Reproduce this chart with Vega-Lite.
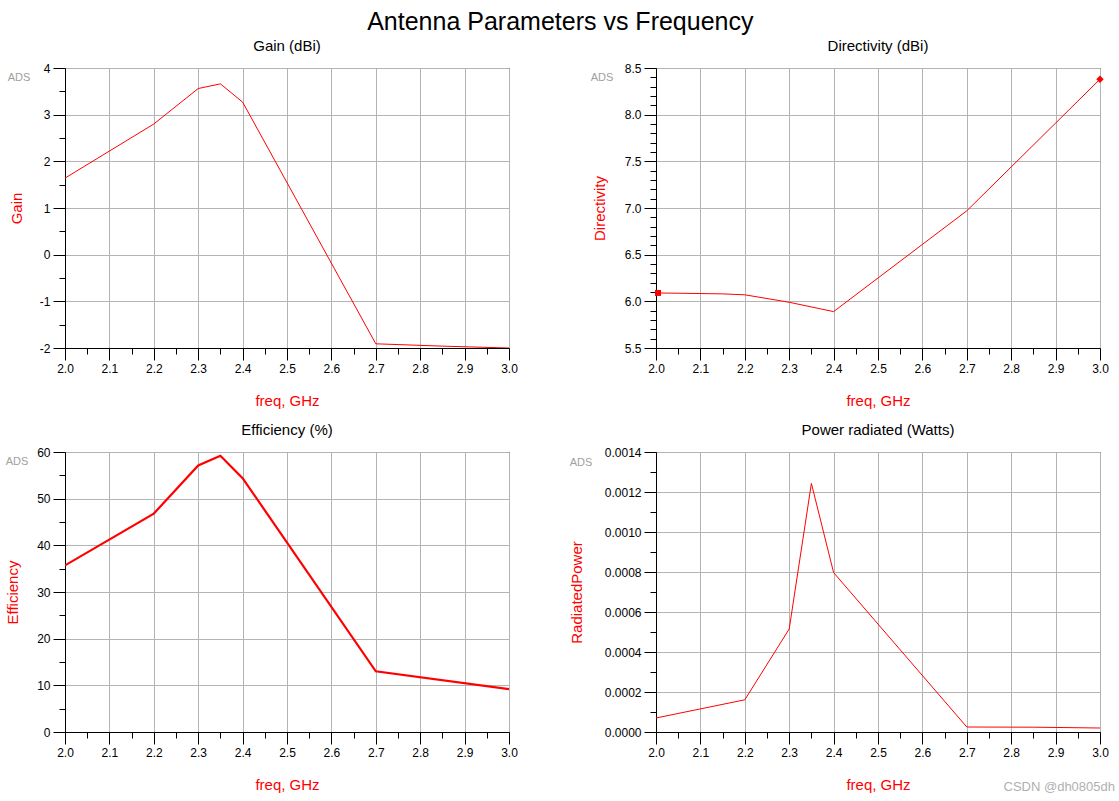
{
  "$schema": "https://vega.github.io/schema/vega-lite/v6.json",
  "padding": {"left": 5, "top": 9, "right": 5, "bottom": 5},
  "background": "white",
  "title": {"text": "Antenna Parameters vs Frequency", "fontSize": 25, "font": "Liberation Sans", "fontWeight": "normal", "anchor": "middle", "color": "black", "offset": 4},
  "datasets": {
    "gain": [
      {"freq": 2.0, "gain": 1.64}, {"freq": 2.2, "gain": 2.80}, {"freq": 2.3, "gain": 3.56}, {"freq": 2.35, "gain": 3.66},
      {"freq": 2.4, "gain": 3.27}, {"freq": 2.7, "gain": -1.91}, {"freq": 2.85, "gain": -1.96}, {"freq": 3.0, "gain": -2.0}
    ],
    "directivity": [
      {"freq": 2.0, "directivity": 6.09}, {"freq": 2.15, "directivity": 6.08}, {"freq": 2.2, "directivity": 6.07}, {"freq": 2.3, "directivity": 5.99},
      {"freq": 2.4, "directivity": 5.89}, {"freq": 2.7, "directivity": 6.97}, {"freq": 3.0, "directivity": 8.38}
    ],
    "efficiency": [
      {"freq": 2.0, "efficiency": 35.7}, {"freq": 2.2, "efficiency": 46.8}, {"freq": 2.3, "efficiency": 57.1}, {"freq": 2.35, "efficiency": 59.2},
      {"freq": 2.4, "efficiency": 54.4}, {"freq": 2.7, "efficiency": 13.0}, {"freq": 3.0, "efficiency": 9.2}
    ],
    "power": [
      {"freq": 2.0, "power": 0.00007}, {"freq": 2.2, "power": 0.000161}, {"freq": 2.3, "power": 0.000515}, {"freq": 2.35, "power": 0.001243},
      {"freq": 2.4, "power": 0.000797}, {"freq": 2.7, "power": 0.000025}, {"freq": 2.85, "power": 0.000024}, {"freq": 3.0, "power": 0.00002}
    ]
  },
  "columns": 2,
  "spacing": {"row": 104, "column": 147},
  "bounds": "flush",
  "concat": [
    {
      "width": 444, "height": 280,
      "title": {"text": "Gain (dBi)"},
      "layer": [
        {
          "data": {"name": "gain"},
          "mark": {"type": "line", "color": "red", "strokeWidth": 1, "clip": true},
          "encoding": {
            "x": {"field": "freq", "type": "quantitative", "scale": {"domain": [2, 3], "nice": false, "zero": false},
              "axis": {"title": "freq, GHz", "tickCount": 200, "values": [2, 2.05, 2.1, 2.15, 2.2, 2.25, 2.3, 2.35, 2.4, 2.45, 2.5, 2.55, 2.6, 2.65, 2.7, 2.75, 2.8, 2.85, 2.9, 2.95, 3],
                "labelExpr": "abs(datum.value*10-round(datum.value*10))<0.01 ? format(datum.value,'.1f') : ''",
                "tickSize": {"condition": {"test": "abs(datum.value*10-round(datum.value*10))<0.01", "value": 12}, "value": 6},
                "gridOpacity": {"condition": {"test": "abs(datum.value*10-round(datum.value*10))<0.01", "value": 1}, "value": 0}}},
            "y": {"field": "gain", "type": "quantitative", "scale": {"domain": [-2, 4], "nice": false, "zero": false},
              "axis": {"title": "Gain", "tickCount": 200, "values": [-2, -1.5, -1, -0.5, 0, 0.5, 1, 1.5, 2, 2.5, 3, 3.5, 4],
                "labelExpr": "abs(datum.value-round(datum.value))<0.01 ? ('' + round(datum.value)) : ''",
                "tickSize": {"condition": {"test": "abs(datum.value-round(datum.value))<0.01", "value": 12}, "value": 6},
                "gridOpacity": {"condition": {"test": "abs(datum.value-round(datum.value))<0.01", "value": 1}, "value": 0}}}
          }
        },
        {
          "data": {"values": [{}]},
          "mark": {"type": "text", "text": "ADS", "color": "#a0a0a0", "fontSize": 11, "font": "Liberation Sans", "align": "center", "baseline": "middle", "dx": -46, "dy": 10},
          "encoding": {"x": {"datum": 2}, "y": {"datum": 4}}
        }
      ]
    },
    {
      "width": 444, "height": 280,
      "title": {"text": "Directivity (dBi)"},
      "layer": [
        {
          "data": {"name": "directivity"},
          "mark": {"type": "line", "color": "red", "strokeWidth": 1, "clip": true},
          "encoding": {
            "x": {"field": "freq", "type": "quantitative", "scale": {"domain": [2, 3], "nice": false, "zero": false},
              "axis": {"title": "freq, GHz", "tickCount": 200, "values": [2, 2.05, 2.1, 2.15, 2.2, 2.25, 2.3, 2.35, 2.4, 2.45, 2.5, 2.55, 2.6, 2.65, 2.7, 2.75, 2.8, 2.85, 2.9, 2.95, 3],
                "labelExpr": "abs(datum.value*10-round(datum.value*10))<0.01 ? format(datum.value,'.1f') : ''",
                "tickSize": {"condition": {"test": "abs(datum.value*10-round(datum.value*10))<0.01", "value": 12}, "value": 6},
                "gridOpacity": {"condition": {"test": "abs(datum.value*10-round(datum.value*10))<0.01", "value": 1}, "value": 0}}},
            "y": {"field": "directivity", "type": "quantitative", "scale": {"domain": [5.5, 8.5], "nice": false, "zero": false},
              "axis": {"title": "Directivity", "titlePadding": 17, "tickCount": 200, "values": [5.5, 5.6, 5.7, 5.8, 5.9, 6.0, 6.1, 6.2, 6.3, 6.4, 6.5, 6.6, 6.7, 6.8, 6.9, 7.0, 7.1, 7.2, 7.3, 7.4, 7.5, 7.6, 7.7, 7.8, 7.9, 8.0, 8.1, 8.2, 8.3, 8.4, 8.5],
                "labelExpr": "abs(datum.value*2-round(datum.value*2))<0.01 ? format(datum.value,'.1f') : ''",
                "tickSize": {"condition": {"test": "abs(datum.value*2-round(datum.value*2))<0.01", "value": 12}, "value": 6},
                "gridOpacity": {"condition": {"test": "abs(datum.value*2-round(datum.value*2))<0.01", "value": 1}, "value": 0}}}
          }
        },
        {
          "data": {"name": "directivity"},
          "transform": [{"filter": "datum.freq == 2"}],
          "mark": {"type": "point", "shape": "square", "filled": true, "color": "red", "size": 36, "opacity": 1, "xOffset": 2},
          "encoding": {"x": {"field": "freq", "type": "quantitative"}, "y": {"field": "directivity", "type": "quantitative"}}
        },
        {
          "data": {"name": "directivity"},
          "transform": [{"filter": "datum.freq == 3"}],
          "mark": {"type": "point", "shape": "diamond", "filled": true, "color": "red", "size": 55, "opacity": 1},
          "encoding": {"x": {"field": "freq", "type": "quantitative"}, "y": {"field": "directivity", "type": "quantitative"}}
        },
        {
          "data": {"values": [{}]},
          "mark": {"type": "text", "text": "ADS", "color": "#a0a0a0", "fontSize": 11, "font": "Liberation Sans", "align": "center", "baseline": "middle", "dx": -54, "dy": 10},
          "encoding": {"x": {"datum": 2}, "y": {"datum": 8.5}}
        }
      ]
    },
    {
      "width": 444, "height": 280,
      "title": {"text": "Efficiency (%)"},
      "layer": [
        {
          "data": {"name": "efficiency"},
          "mark": {"type": "line", "color": "red", "strokeWidth": 2.2, "clip": true},
          "encoding": {
            "x": {"field": "freq", "type": "quantitative", "scale": {"domain": [2, 3], "nice": false, "zero": false},
              "axis": {"title": "freq, GHz", "tickCount": 200, "values": [2, 2.05, 2.1, 2.15, 2.2, 2.25, 2.3, 2.35, 2.4, 2.45, 2.5, 2.55, 2.6, 2.65, 2.7, 2.75, 2.8, 2.85, 2.9, 2.95, 3],
                "labelExpr": "abs(datum.value*10-round(datum.value*10))<0.01 ? format(datum.value,'.1f') : ''",
                "tickSize": {"condition": {"test": "abs(datum.value*10-round(datum.value*10))<0.01", "value": 12}, "value": 6},
                "gridOpacity": {"condition": {"test": "abs(datum.value*10-round(datum.value*10))<0.01", "value": 1}, "value": 0}}},
            "y": {"field": "efficiency", "type": "quantitative", "scale": {"domain": [0, 60], "nice": false, "zero": false},
              "axis": {"title": "Efficiency", "titlePadding": 16, "tickCount": 200, "values": [0, 5, 10, 15, 20, 25, 30, 35, 40, 45, 50, 55, 60],
                "labelExpr": "datum.value % 10 == 0 ? format(datum.value,'d') : ''",
                "tickSize": {"condition": {"test": "datum.value % 10 == 0", "value": 12}, "value": 6},
                "gridOpacity": {"condition": {"test": "datum.value % 10 == 0", "value": 1}, "value": 0}}}
          }
        },
        {
          "data": {"values": [{}]},
          "mark": {"type": "text", "text": "ADS", "color": "#a0a0a0", "fontSize": 11, "font": "Liberation Sans", "align": "center", "baseline": "middle", "dx": -48, "dy": 10},
          "encoding": {"x": {"datum": 2}, "y": {"datum": 60}}
        }
      ]
    },
    {
      "width": 444, "height": 280,
      "title": {"text": "Power radiated (Watts)"},
      "layer": [
        {
          "data": {"name": "power"},
          "mark": {"type": "line", "color": "red", "strokeWidth": 1, "clip": true},
          "encoding": {
            "x": {"field": "freq", "type": "quantitative", "scale": {"domain": [2, 3], "nice": false, "zero": false},
              "axis": {"title": "freq, GHz", "tickCount": 200, "values": [2, 2.05, 2.1, 2.15, 2.2, 2.25, 2.3, 2.35, 2.4, 2.45, 2.5, 2.55, 2.6, 2.65, 2.7, 2.75, 2.8, 2.85, 2.9, 2.95, 3],
                "labelExpr": "abs(datum.value*10-round(datum.value*10))<0.01 ? format(datum.value,'.1f') : ''",
                "tickSize": {"condition": {"test": "abs(datum.value*10-round(datum.value*10))<0.01", "value": 12}, "value": 6},
                "gridOpacity": {"condition": {"test": "abs(datum.value*10-round(datum.value*10))<0.01", "value": 1}, "value": 0}}},
            "y": {"field": "power", "type": "quantitative", "scale": {"domain": [0, 0.0014], "nice": false, "zero": false},
              "axis": {"title": "RadiatedPower", "titlePadding": 20, "tickCount": 200, "values": [0, 0.0001, 0.0002, 0.0003, 0.0004, 0.0005, 0.0006, 0.0007, 0.0008, 0.0009, 0.001, 0.0011, 0.0012, 0.0013, 0.0014],
                "labelExpr": "abs(datum.value*5000-round(datum.value*5000))<0.01 ? format(datum.value,'.4f') : ''",
                "tickSize": {"condition": {"test": "abs(datum.value*5000-round(datum.value*5000))<0.01", "value": 12}, "value": 6},
                "gridOpacity": {"condition": {"test": "abs(datum.value*5000-round(datum.value*5000))<0.01", "value": 1}, "value": 0}}}
          }
        },
        {
          "data": {"values": [{}]},
          "mark": {"type": "text", "text": "ADS", "color": "#a0a0a0", "fontSize": 11, "font": "Liberation Sans", "align": "center", "baseline": "middle", "dx": -75, "dy": 11},
          "encoding": {"x": {"datum": 2}, "y": {"datum": 0.0014}}
        },
        {
          "data": {"values": [{}]},
          "mark": {"type": "text", "text": "CSDN @dh0805dh", "color": "#b0b0b0", "fontSize": 13, "font": "Liberation Sans", "align": "right", "baseline": "middle", "dx": 15, "dy": 55},
          "encoding": {"x": {"datum": 3}, "y": {"datum": 0}}
        }
      ]
    }
  ],
  "config": {
    "view": {"stroke": "black", "strokeWidth": 1},
    "title": {"font": "Liberation Sans", "fontSize": 15, "fontWeight": "normal", "color": "black", "offset": 8},
    "axis": {
      "domainColor": "black", "domainWidth": 1, "tickColor": "black", "tickWidth": 1,
      "gridColor": "#b4b4b4", "gridWidth": 1, "grid": true,
      "labelFont": "Liberation Sans", "labelFontSize": 12, "labelColor": "black", "labelPadding": 3,
      "labelOverlap": false, "labelFlush": false,
      "titleFont": "Liberation Sans", "titleFontSize": 15, "titleFontWeight": "normal", "titleColor": "red", "titlePadding": 15
    },
    "axisX": {"titlePadding": 19}
  }
}
